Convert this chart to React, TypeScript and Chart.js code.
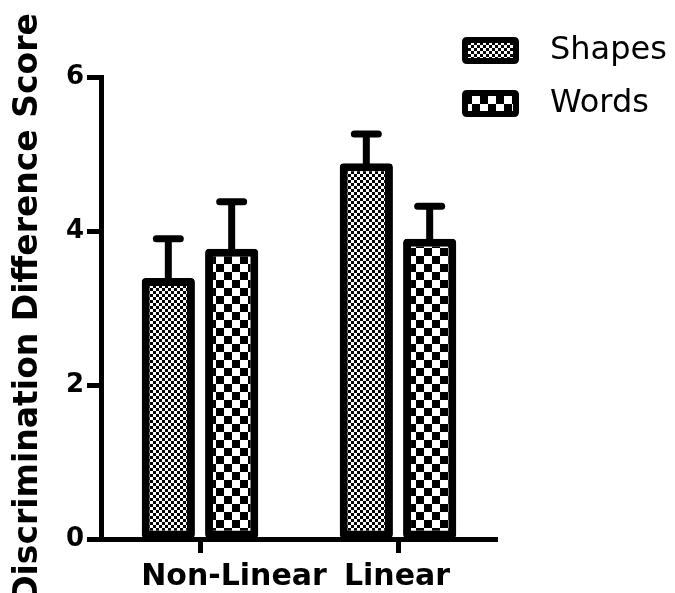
import React, { useEffect, useRef } from 'react';
import { Chart, registerables } from 'chart.js';

Chart.register(...registerables);

const categories = ['Non-Linear', 'Linear'];
const seriesNames = ['Shapes', 'Words'];
const shapesMeans = [3.39, 4.88];
const shapesErr = [0.51, 0.38];
const wordsMeans = [3.77, 3.9];
const wordsErr = [0.61, 0.42];
const yTickValues = [0, 2, 4, 6];
const labelShift = [34, -1];

function makePattern(ctx: CanvasRenderingContext2D, cell: number) {
  const c = document.createElement('canvas');
  c.width = cell * 2;
  c.height = cell * 2;
  const p = c.getContext('2d')!;
  p.fillStyle = '#fff';
  p.fillRect(0, 0, cell * 2, cell * 2);
  p.fillStyle = '#000';
  p.fillRect(0, 0, cell, cell);
  p.fillRect(cell, cell, cell, cell);
  return ctx.createPattern(c, 'repeat') as CanvasPattern;
}

function roundRect(ctx: CanvasRenderingContext2D, x: number, y: number, w: number, h: number, r: number) {
  ctx.beginPath();
  ctx.moveTo(x + r, y);
  ctx.lineTo(x + w - r, y);
  ctx.quadraticCurveTo(x + w, y, x + w, y + r);
  ctx.lineTo(x + w, y + h - r);
  ctx.quadraticCurveTo(x + w, y + h, x + w - r, y + h);
  ctx.lineTo(x + r, y + h);
  ctx.quadraticCurveTo(x, y + h, x, y + h - r);
  ctx.lineTo(x, y + r);
  ctx.quadraticCurveTo(x, y, x + r, y);
  ctx.closePath();
}

const errorBarPlugin = {
  id: 'errorBars',
  afterDatasetsDraw(chart: any) {
    const ctx = chart.ctx;
    const yScale = chart.scales.y;
    chart.data.datasets.forEach((ds: any, i: number) => {
      const meta = chart.getDatasetMeta(i);
      meta.data.forEach((bar: any, j: number) => {
        const v = ds.data[j];
        const e = ds.errors[j];
        const x = bar.x;
        const yBase = yScale.getPixelForValue(v);
        const yTop = yScale.getPixelForValue(v + e);
        ctx.save();
        ctx.strokeStyle = '#000';
        ctx.lineWidth = 7;
        ctx.beginPath();
        ctx.moveTo(x, yBase + 2);
        ctx.lineTo(x, yTop);
        ctx.stroke();
        ctx.lineWidth = 7;
        ctx.lineCap = 'round';
        ctx.beginPath();
        ctx.moveTo(x - 12, yTop);
        ctx.lineTo(x + 12, yTop);
        ctx.stroke();
        ctx.restore();
      });
    });
  },
};

const xLabelPlugin = {
  id: 'xLabels',
  afterDraw(chart: any) {
    const ctx = chart.ctx;
    const xScale = chart.scales.x;
    ctx.save();
    ctx.fillStyle = '#000';
    ctx.font = 'bold 30px "DejaVu Sans"';
    ctx.textAlign = 'center';
    ctx.textBaseline = 'alphabetic';
    categories.forEach((c, i) => {
      const x = xScale.getPixelForTick(i) + labelShift[i];
      ctx.fillText(c, x, xScale.top + 46);
    });
    ctx.restore();
  },
};

const legendPlugin = {
  id: 'customLegend',
  afterDraw(chart: any) {
    const ctx = chart.ctx;
    const x0 = chart.chartArea.right - 35;
    const y0 = 37;
    const rowGap = 53;
    ctx.save();
    chart.data.datasets.forEach((ds: any, i: number) => {
      const y = y0 + i * rowGap;
      ctx.fillStyle = '#000';
      roundRect(ctx, x0, y, 57, 27, 5);
      ctx.fill();
      ctx.fillStyle = ds.backgroundColor;
      ctx.fillRect(x0 + 6, y + 6, 45, 15);
      ctx.fillStyle = '#000';
      ctx.font = '32px "DejaVu Sans"';
      ctx.textAlign = 'left';
      ctx.textBaseline = 'middle';
      ctx.fillText(ds.label, x0 + 88, y + 14);
    });
    ctx.restore();
  },
};

export default function App() {
  const ref = useRef<HTMLCanvasElement>(null);
  useEffect(() => {
    document.body.style.margin = '0';
    const canvas = ref.current!;
    const ctx = canvas.getContext('2d')!;
    const shapesPattern = makePattern(ctx, 3);
    const wordsPattern = makePattern(ctx, 8);
    Chart.defaults.font.family = '"DejaVu Sans"';
    const chart = new Chart(canvas, {
      type: 'bar',
      data: {
        labels: categories,
        datasets: [
          {
            label: seriesNames[0],
            data: shapesMeans,
            errors: shapesErr,
            backgroundColor: shapesPattern,
            borderColor: '#000',
            borderWidth: 8,
            borderRadius: 4,
            borderSkipped: false,
            categoryPercentage: 0.64,
            barPercentage: 0.84,
          } as any,
          {
            label: seriesNames[1],
            data: wordsMeans,
            errors: wordsErr,
            backgroundColor: wordsPattern,
            borderColor: '#000',
            borderWidth: 8,
            borderRadius: 4,
            borderSkipped: false,
            categoryPercentage: 0.64,
            barPercentage: 0.84,
          } as any,
        ],
      },
      options: {
        responsive: false,
        animation: false,
        layout: { padding: { top: 77, right: 178, bottom: 0, left: 0 } },
        plugins: {
          legend: { display: false },
          tooltip: { enabled: false },
          title: { display: false },
        },
        scales: {
          x: {
            grid: {
              display: true,
              drawOnChartArea: false,
              drawTicks: true,
              offset: false,
              tickLength: 14,
              tickWidth: 5,
              tickColor: '#000',
            },
            border: { display: true, color: '#000', width: 5 },
            ticks: { display: false },
            afterFit: (s: any) => {
              s.height = 54;
            },
          },
          y: {
            min: 0,
            max: 6,
            afterBuildTicks: (s: any) => {
              s.ticks = yTickValues.map((v) => ({ value: v }));
            },
            grid: {
              display: true,
              drawOnChartArea: false,
              drawTicks: true,
              tickLength: 14,
              tickWidth: 5,
              tickColor: '#000',
            },
            border: { display: true, color: '#000', width: 5 },
            ticks: {
              color: '#000',
              padding: 3,
              font: { family: '"DejaVu Sans"', weight: 'bold', size: 26 },
            },
            title: {
              display: true,
              text: 'Discrimination Difference Score',
              color: '#000',
              font: { family: '"DejaVu Sans"', weight: 'bold', size: 33 },
              padding: { top: 9, bottom: 0 },
            },
            afterFit: (s: any) => {
              s.width = 101;
            },
          },
        },
      },
      plugins: [errorBarPlugin, xLabelPlugin, legendPlugin],
    });
    return () => chart.destroy();
  }, []);
  return <canvas ref={ref} width={675} height={593} style={{ display: 'block' }} />;
}
